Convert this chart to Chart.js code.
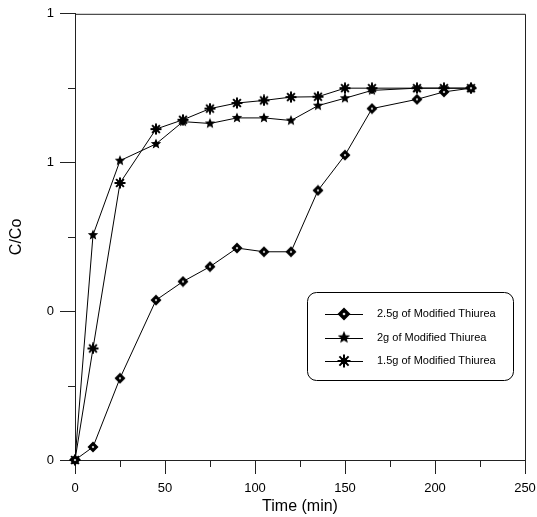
<!DOCTYPE html>
<html>
<head>
  <title>C/Co vs Time</title>
  <script src="https://cdn.jsdelivr.net/npm/chart.js"></script>
  <style>
    body { margin: 0; background: #fff; }
  </style>
</head>
<body>
  <canvas id="chart" width="537" height="517"></canvas>

  <script>
    // time points (min)
    const times = [0, 10, 25, 45, 60, 75, 90, 105, 120, 135, 150, 165, 190, 205, 220];
    // C/Co
    const thiurea25 = [0, 0.035, 0.22, 0.43, 0.48, 0.52, 0.57, 0.56, 0.56, 0.725, 0.82, 0.945, 0.97, 0.99, 1.0];
    const thiurea2  = [0, 0.605, 0.805, 0.85, 0.91, 0.905, 0.92, 0.92, 0.913, 0.953, 0.973, 0.994, 1.0, 1.0, 1.0];
    const thiurea15 = [0, 0.30, 0.745, 0.89, 0.915, 0.945, 0.96, 0.967, 0.976, 0.977, 1.0, 1.0, 1.0, 1.0, 1.0];
    const seriesNames = ['2.5g of Modified Thiurea', '2g of Modified Thiurea', '1.5g of Modified Thiurea'];

    const FONT = "'Liberation Sans', Arial, sans-serif";

    // marker images
    function marker(kind, size) {
      const c = document.createElement('canvas');
      c.width = c.height = size;
      const g = c.getContext('2d');
      const r = size / 2 - 0.5;
      g.translate(size / 2, size / 2);
      g.fillStyle = '#000';
      g.strokeStyle = '#000';
      if (kind === 'diamond') {
        g.beginPath();
        g.moveTo(0, -r); g.lineTo(r, 0); g.lineTo(0, r); g.lineTo(-r, 0);
        g.closePath(); g.fill();
        const w = r * 0.24;
        g.fillStyle = '#fff';
        g.beginPath();
        g.moveTo(0, -w); g.lineTo(w, 0); g.lineTo(0, w); g.lineTo(-w, 0);
        g.closePath(); g.fill();
      } else if (kind === 'star') {
        g.beginPath();
        for (let i = 0; i < 10; i++) {
          const a = -Math.PI / 2 + i * Math.PI / 5;
          const rr = i % 2 === 0 ? r : r * 0.45;
          g.lineTo(Math.cos(a) * rr, Math.sin(a) * rr);
        }
        g.closePath(); g.fill();
      } else {
        g.lineWidth = 2;
        for (let i = 0; i < 8; i++) {
          const a = i * Math.PI / 4;
          g.beginPath();
          g.moveTo(0, 0);
          g.lineTo(Math.cos(a) * r, Math.sin(a) * r);
          g.stroke();
        }
        g.beginPath();
        g.arc(0, 0, r * 0.5, 0, Math.PI * 2);
        g.fill();
      }
      return c;
    }

    const kinds = ['diamond', 'star', 'asterisk'];
    const plotMarks = kinds.map(k => marker(k, 12));
    const legendMarks = kinds.map(k => marker(k, 14));

    const makeSet = (i, vals) => ({
      label: seriesNames[i],
      data: times.map((t, j) => ({ x: t, y: vals[j] })),
      borderColor: '#000',
      borderWidth: 1,
      pointStyle: plotMarks[i],
      pointRadius: 6,
      showLine: true,
      fill: false,
      clip: false
    });

    // short minor ticks, frame, legend box
    const extras = {
      id: 'extras',
      beforeDatasetsDraw(chart) {
        const ctx = chart.ctx;
        const a = chart.chartArea;
        const xs = chart.scales.x, ys = chart.scales.y;
        ctx.save();
        ctx.strokeStyle = '#222';
        ctx.lineWidth = 1;
        ctx.beginPath();
        xs.ticks.forEach((t, i) => {
          if (i % 2 === 1) {
            const px = Math.round(xs.getPixelForTick(i)) + 0.5;
            ctx.moveTo(px, a.bottom); ctx.lineTo(px, a.bottom + 7);
          }
        });
        ys.ticks.forEach((t, i) => {
          if (i % 2 === 1) {
            const py = Math.round(ys.getPixelForTick(i)) + 0.5;
            ctx.moveTo(a.left, py); ctx.lineTo(a.left - 7, py);
          }
        });
        // top and right frame
        ctx.moveTo(a.left, a.top + 0.5); ctx.lineTo(a.right + 0.5, a.top + 0.5);
        ctx.lineTo(a.right + 0.5, a.bottom);
        ctx.stroke();
        ctx.restore();
      },
      afterDraw(chart) {
        const ctx = chart.ctx;
        ctx.save();
        ctx.lineWidth = 1;
        // legend
        const lx = 307.5, ly = 292.5, lw = 206, lh = 88;
        ctx.beginPath();
        ctx.roundRect(lx, ly, lw, lh, 9);
        ctx.fillStyle = '#fff';
        ctx.fill();
        ctx.strokeStyle = '#000';
        ctx.stroke();
        ctx.font = '11px ' + FONT;
        ctx.textBaseline = 'middle';
        ctx.fillStyle = '#000';
        seriesNames.forEach((name, i) => {
          const y = 314 + i * 23.5;
          ctx.beginPath();
          ctx.moveTo(325, Math.round(y) + 0.5);
          ctx.lineTo(363, Math.round(y) + 0.5);
          ctx.stroke();
          const m = legendMarks[i];
          ctx.drawImage(m, 344 - m.width / 2, y - m.height / 2);
          ctx.fillText(name, 377, y);
        });
        ctx.restore();
      }
    };

    new Chart(document.getElementById('chart'), {
      type: 'scatter',
      data: {
        datasets: [makeSet(0, thiurea25), makeSet(1, thiurea2), makeSet(2, thiurea15)]
      },
      options: {
        responsive: false,
        animation: false,
        layout: { padding: { top: 11, right: 0, left: 0, bottom: 0 } },
        plugins: { legend: { display: false }, tooltip: { enabled: false } },
        scales: {
          x: {
            type: 'linear',
            min: 0, max: 250,
            afterFit: s => { s.height = 57; s.paddingRight = 12; s.paddingLeft = 0; },
            border: { display: true, color: '#222', width: 1 },
            grid: {
              drawOnChartArea: false,
              tickLength: 14,
              tickColor: c => c.index % 2 === 0 ? '#222' : 'rgba(0,0,0,0)'
            },
            ticks: {
              stepSize: 25,
              autoSkip: false,
              maxRotation: 0,
              padding: 7,
              color: '#000',
              font: { family: FONT, size: 13 },
              callback: (v, i) => i % 2 === 0 ? String(v) : ''
            },
            title: {
              display: true,
              text: 'Time (min)',
              color: '#000',
              font: { family: FONT, size: 16 },
              padding: { top: 0, bottom: 1 }
            }
          },
          y: {
            min: 0, max: 1.2,
            afterFit: s => { s.width = 75; },
            border: { display: true, color: '#222', width: 1 },
            grid: {
              drawOnChartArea: false,
              tickLength: 15,
              tickColor: c => c.index % 2 === 0 ? '#222' : 'rgba(0,0,0,0)'
            },
            ticks: {
              stepSize: 0.2,
              autoSkip: false,
              padding: 6,
              color: '#000',
              font: { family: FONT, size: 13 },
              callback: (v, i) => i % 2 === 0 ? String(Math.round(v)) : ''
            },
            title: {
              display: true,
              text: 'C/Co',
              color: '#000',
              font: { family: FONT, size: 16 },
              padding: { top: 7, bottom: 0 }
            }
          }
        }
      },
      plugins: [extras]
    });
  </script>
</body>
</html>
